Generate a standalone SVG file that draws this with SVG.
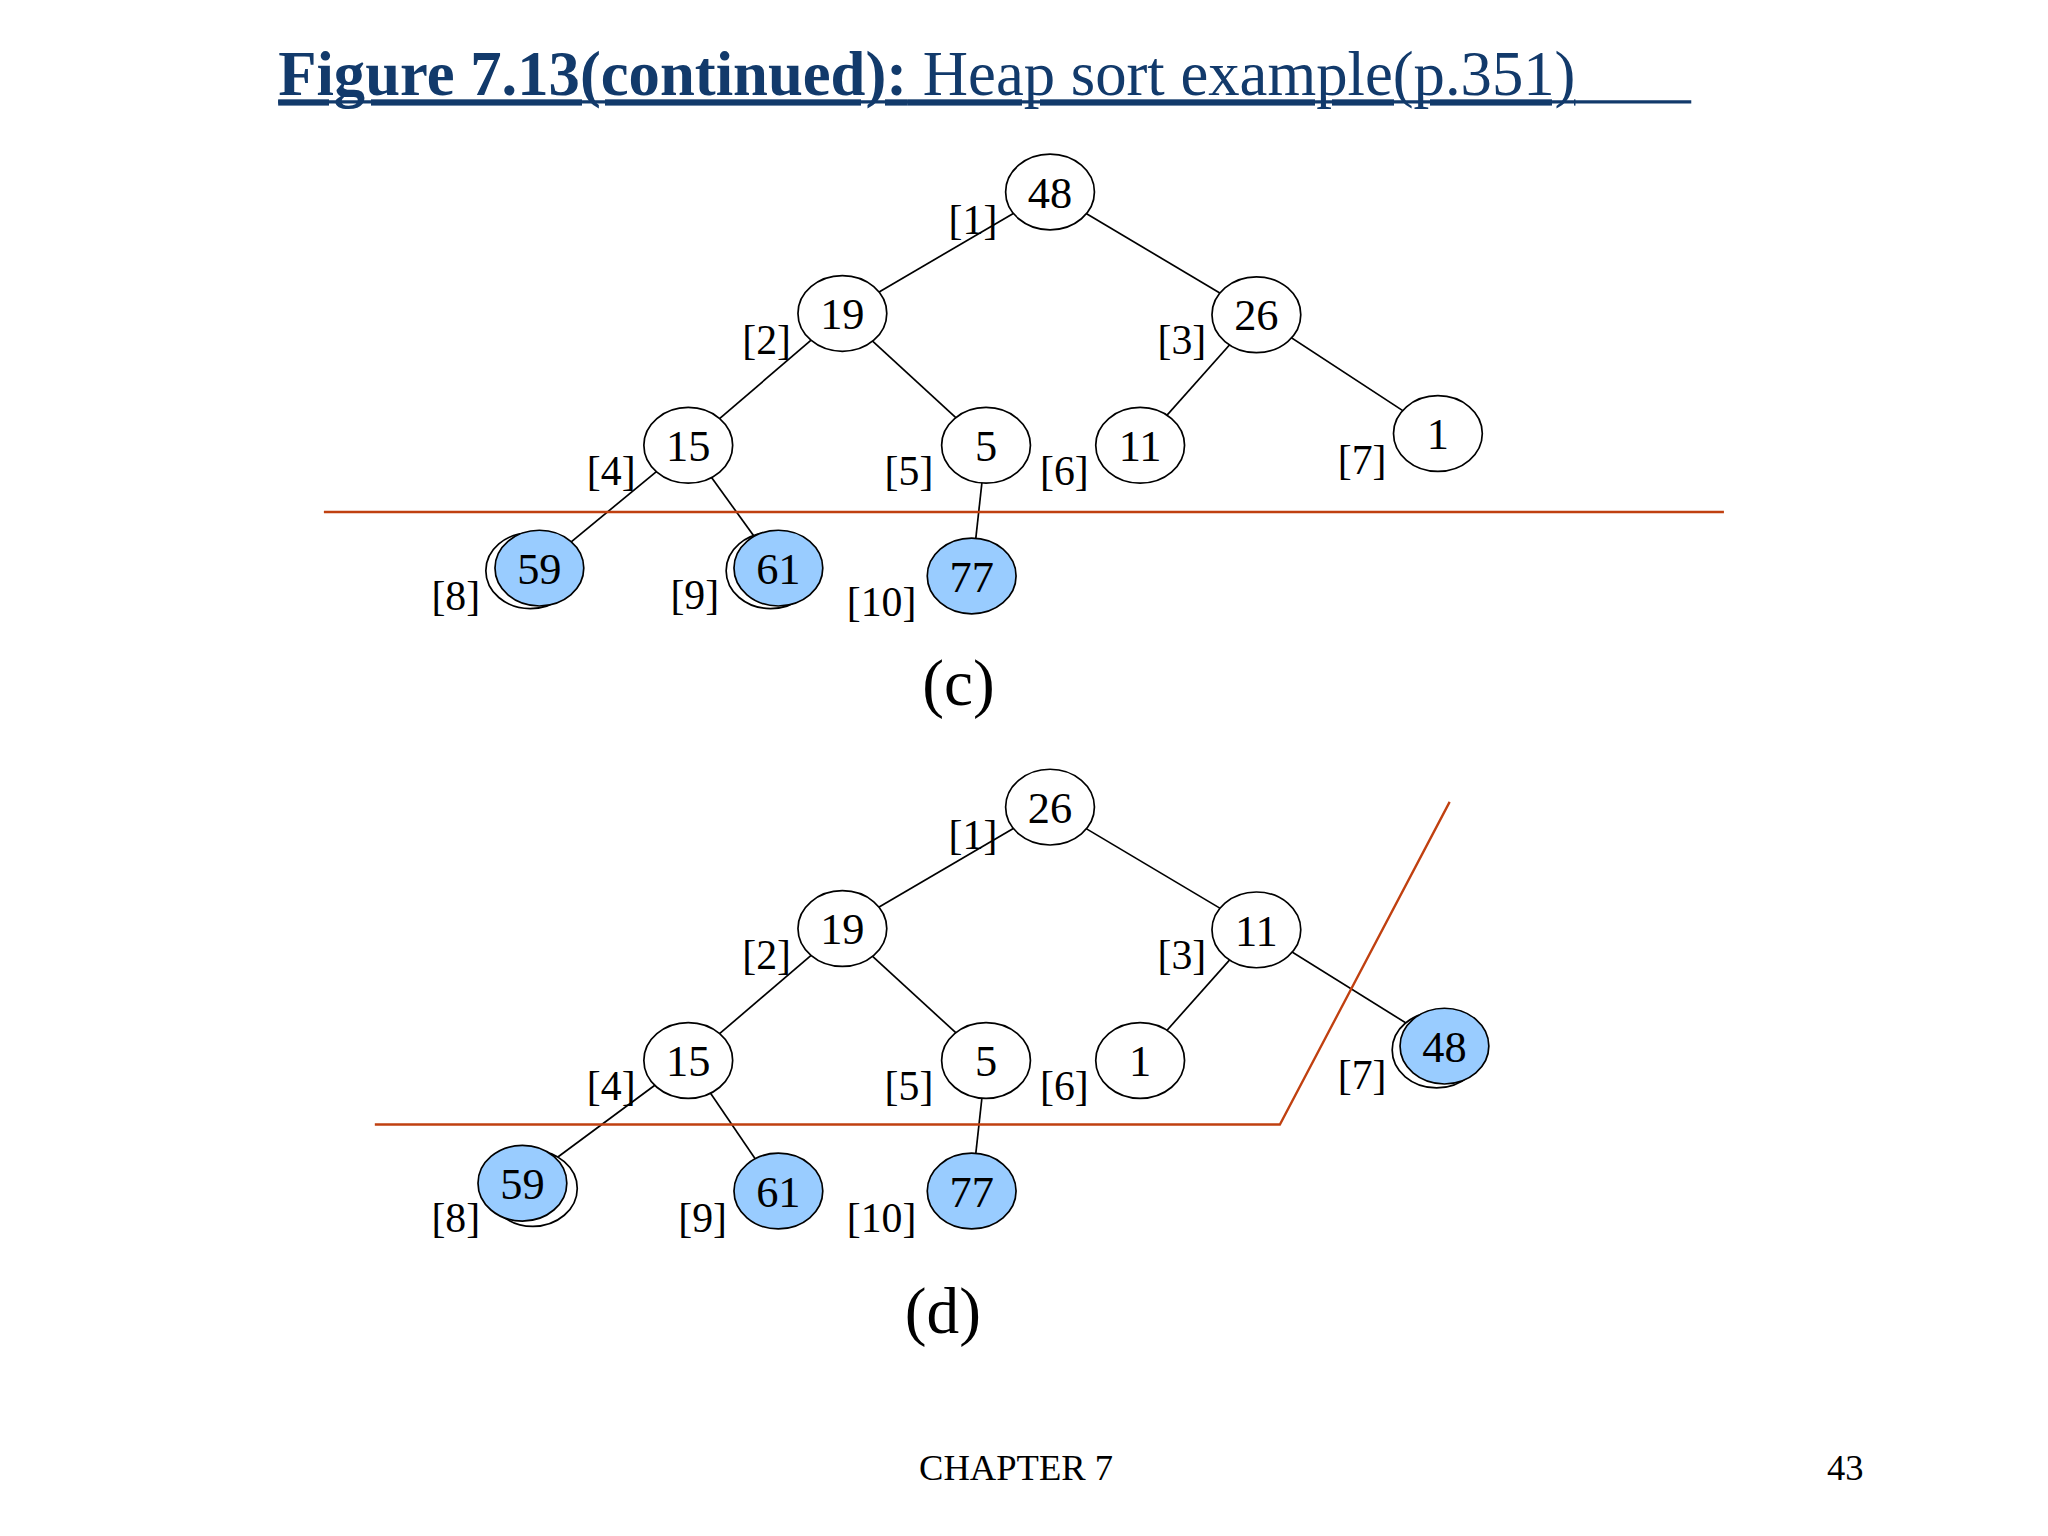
<svg xmlns="http://www.w3.org/2000/svg" width="2048" height="1536" viewBox="0 0 2048 1536">
<style>
text{font-family:"Liberation Serif","Times New Roman",serif;fill:#000}
.n{fill:#fff;stroke:#000;stroke-width:1.3}
.b{fill:#99ccff;stroke:#000;stroke-width:1.3}
.s{fill:#fff;stroke:#000;stroke-width:1.3}
.v{font-size:34px;text-anchor:middle}
.l{font-size:32px;text-anchor:middle}
.e line{stroke:#000;stroke-width:1.3}
.r{stroke:#c04010;stroke-width:1.8;fill:none}
</style>
<rect width="2048" height="1536" fill="#fff"/>
<g transform="scale(1.306)">
<text x="213" y="73" style="font-size:48px;fill:#123a6b;text-decoration:underline"><tspan font-weight="bold">Figure 7.13(continued):</tspan> Heap sort example(p.351)</text>
<line x1="213" y1="78" x2="1295" y2="78" stroke="#123a6b" stroke-width="2.5"/>
<g id="connectors-c" class="e">
<line x1="804" y1="147" x2="645" y2="240"/><line x1="804" y1="147" x2="962" y2="241"/>
<line x1="645" y1="240" x2="527" y2="341"/><line x1="645" y1="240" x2="755" y2="341"/>
<line x1="962" y1="241" x2="873" y2="341"/><line x1="962" y1="241" x2="1101" y2="332"/>
<line x1="527" y1="341" x2="413" y2="435"/><line x1="527" y1="341" x2="595" y2="435"/>
<line x1="755" y1="341" x2="744" y2="441"/>
</g>
<line class="r" x1="248" y1="392" x2="1320" y2="392"/>
<g id="c48"><ellipse class="n" cx="804" cy="147" rx="34" ry="29"/><text class="v" x="804" y="159">48</text></g>
<g id="c19"><ellipse class="n" cx="645" cy="240" rx="34" ry="29"/><text class="v" x="645" y="252">19</text></g>
<g id="c26"><ellipse class="n" cx="962" cy="241" rx="34" ry="29"/><text class="v" x="962" y="253">26</text></g>
<g id="c15"><ellipse class="n" cx="527" cy="341" rx="34" ry="29"/><text class="v" x="527" y="353">15</text></g>
<g id="c5"><ellipse class="n" cx="755" cy="341" rx="34" ry="29"/><text class="v" x="755" y="353">5</text></g>
<g id="c11"><ellipse class="n" cx="873" cy="341" rx="34" ry="29"/><text class="v" x="873" y="353">11</text></g>
<g id="c1"><ellipse class="n" cx="1101" cy="332" rx="34" ry="29"/><text class="v" x="1101" y="344">1</text></g>
<g id="c59"><ellipse class="s" cx="406" cy="437" rx="34" ry="29"/><ellipse class="b" cx="413" cy="435" rx="34" ry="29"/><text class="v" x="413" y="447">59</text></g>
<g id="c61"><ellipse class="s" cx="590" cy="437" rx="34" ry="29"/><ellipse class="b" cx="596" cy="435" rx="34" ry="29"/><text class="v" x="596" y="447">61</text></g>
<g id="c77"><ellipse class="b" cx="744" cy="441" rx="34" ry="29"/><text class="v" x="744" y="453">77</text></g>
<g id="labels-c">
<text class="l" x="745" y="179">[1]</text><text class="l" x="587" y="271">[2]</text><text class="l" x="905" y="271">[3]</text>
<text class="l" x="468" y="371">[4]</text><text class="l" x="696" y="371">[5]</text><text class="l" x="815" y="371">[6]</text>
<text class="l" x="1043" y="363">[7]</text><text class="l" x="349" y="467">[8]</text><text class="l" x="532" y="466">[9]</text>
<text class="l" x="675" y="472">[10]</text>
</g>
<text x="734" y="540" style="font-size:50px;text-anchor:middle">(c)</text>

<g id="connectors-d" class="e">
<line x1="804" y1="618" x2="645" y2="711"/><line x1="804" y1="618" x2="962" y2="712"/>
<line x1="645" y1="711" x2="527" y2="812"/><line x1="645" y1="711" x2="755" y2="812"/>
<line x1="962" y1="712" x2="873" y2="812"/><line x1="962" y1="712" x2="1105" y2="801"/>
<line x1="527" y1="812" x2="400" y2="906"/><line x1="527" y1="812" x2="595" y2="912"/>
<line x1="755" y1="812" x2="744" y2="912"/>
</g>
<polyline class="r" points="287,861 980,861 1110,614"/>
<g id="d26"><ellipse class="n" cx="804" cy="618" rx="34" ry="29"/><text class="v" x="804" y="630">26</text></g>
<g id="d19"><ellipse class="n" cx="645" cy="711" rx="34" ry="29"/><text class="v" x="645" y="723">19</text></g>
<g id="d11"><ellipse class="n" cx="962" cy="712" rx="34" ry="29"/><text class="v" x="962" y="724">11</text></g>
<g id="d15"><ellipse class="n" cx="527" cy="812" rx="34" ry="29"/><text class="v" x="527" y="824">15</text></g>
<g id="d5"><ellipse class="n" cx="755" cy="812" rx="34" ry="29"/><text class="v" x="755" y="824">5</text></g>
<g id="d1"><ellipse class="n" cx="873" cy="812" rx="34" ry="29"/><text class="v" x="873" y="824">1</text></g>
<g id="d48"><ellipse class="s" cx="1100" cy="804" rx="34" ry="29"/><ellipse class="b" cx="1106" cy="801" rx="34" ry="29"/><text class="v" x="1106" y="813">48</text></g>
<g id="d59"><ellipse class="s" cx="408" cy="910" rx="34" ry="29"/><ellipse class="b" cx="400" cy="906" rx="34" ry="29"/><text class="v" x="400" y="918">59</text></g>
<g id="d61"><ellipse class="b" cx="596" cy="912" rx="34" ry="29"/><text class="v" x="596" y="924">61</text></g>
<g id="d77"><ellipse class="b" cx="744" cy="912" rx="34" ry="29"/><text class="v" x="744" y="924">77</text></g>
<g id="labels-d">
<text class="l" x="745" y="650">[1]</text><text class="l" x="587" y="742">[2]</text><text class="l" x="905" y="742">[3]</text>
<text class="l" x="468" y="842">[4]</text><text class="l" x="696" y="842">[5]</text><text class="l" x="815" y="842">[6]</text>
<text class="l" x="1043" y="834">[7]</text><text class="l" x="349" y="943">[8]</text><text class="l" x="538" y="943">[9]</text>
<text class="l" x="675" y="943">[10]</text>
</g>
<text x="722" y="1021" style="font-size:50px;text-anchor:middle">(d)</text>
<text x="778" y="1133" style="font-size:28px;text-anchor:middle">CHAPTER 7</text>
<text x="1413" y="1133" style="font-size:28px;text-anchor:middle">43</text>
</g>
</svg>
